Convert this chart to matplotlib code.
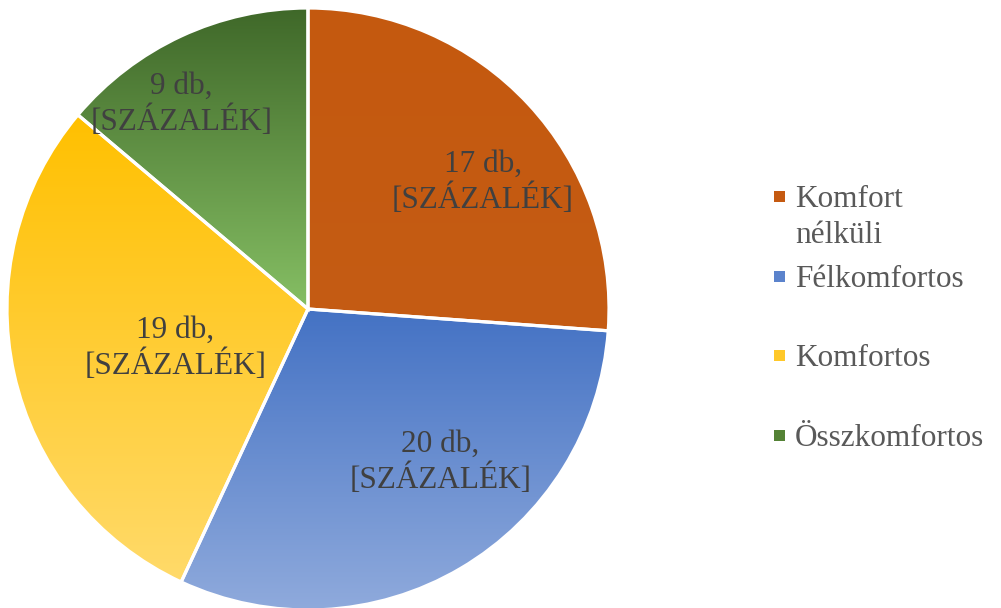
import numpy as np
import matplotlib.pyplot as plt
from matplotlib.colors import LinearSegmentedColormap
from matplotlib.patches import Rectangle

# adatok
categories = ["Komfort\nnélküli", "Félkomfortos", "Komfortos", "Összkomfortos"]
counts = [17, 20, 19, 9]
labels = ["17 db,\n[SZÁZALÉK]", "20 db,\n[SZÁZALÉK]", "19 db,\n[SZÁZALÉK]", "9 db,\n[SZÁZALÉK]"]

# szinatmenet (felso, also) szeletenkent
grad_top = ["#C4590F", "#4472C4", "#FFC000", "#3F6829"]
grad_bottom = ["#C55C14", "#8FAADC", "#FFDA6A", "#86BF64"]
legend_colors = ["#C55A11", "#5B83CC", "#FFC829", "#548235"]

# cimkek helye (pie koordinatakban) es jelmagyarazat sorai (pixel)
label_pos = [(0.58, 0.42), (0.44, -0.51), (-0.44, -0.13), (-0.42, 0.68)]
legend_y = [196, 276, 355, 435]

plt.rcParams['font.family'] = ['Liberation Serif', 'DejaVu Serif']

fig = plt.figure(figsize=(10.01, 6.08), dpi=100)
W, H = 1001, 608
ax = fig.add_axes([7 / W, 1 - 610 / H, 602 / W, 602 / H])

wedges, _ = ax.pie(counts, startangle=90, counterclock=False, radius=1,
                   wedgeprops=dict(edgecolor="white", linewidth=2.3))

grad = np.linspace(0, 1, 256).reshape(-1, 1)
for w, c0, c1 in zip(wedges, grad_top, grad_bottom):
    bb = w.get_path().get_extents(w.get_patch_transform())
    cmap = LinearSegmentedColormap.from_list("g", [c0, c1])
    im = ax.imshow(grad, cmap=cmap, aspect="auto",
                   extent=[bb.x0, bb.x1, bb.y0, bb.y1], origin="upper", zorder=1)
    im.set_clip_path(w)
    w.set_facecolor("none")
    w.set_zorder(2)

for (x, y), txt in zip(label_pos, labels):
    ax.text(x, y, txt, ha="center", va="center", fontsize=22.5,
            color="#404040", linespacing=1.18, zorder=3)

ax.set_xlim(-1.0, 1.0)
ax.set_ylim(-1.0, 1.0)
ax.set_aspect("equal")
ax.axis("off")

# jelmagyarazat
for cat, col, y in zip(categories, legend_colors, legend_y):
    fig.patches.append(Rectangle(((779 - 5.5) / W, 1 - (y + 5.5) / H), 11 / W, 11 / H,
                                 transform=fig.transFigure, facecolor=col, edgecolor="none"))
    fig.text(795 / W, 1 - (y - 11) / H, cat, ha="left", va="top", fontsize=22.5,
             color="#595959", linespacing=1.32)

fig.savefig("out.png", dpi=100)
